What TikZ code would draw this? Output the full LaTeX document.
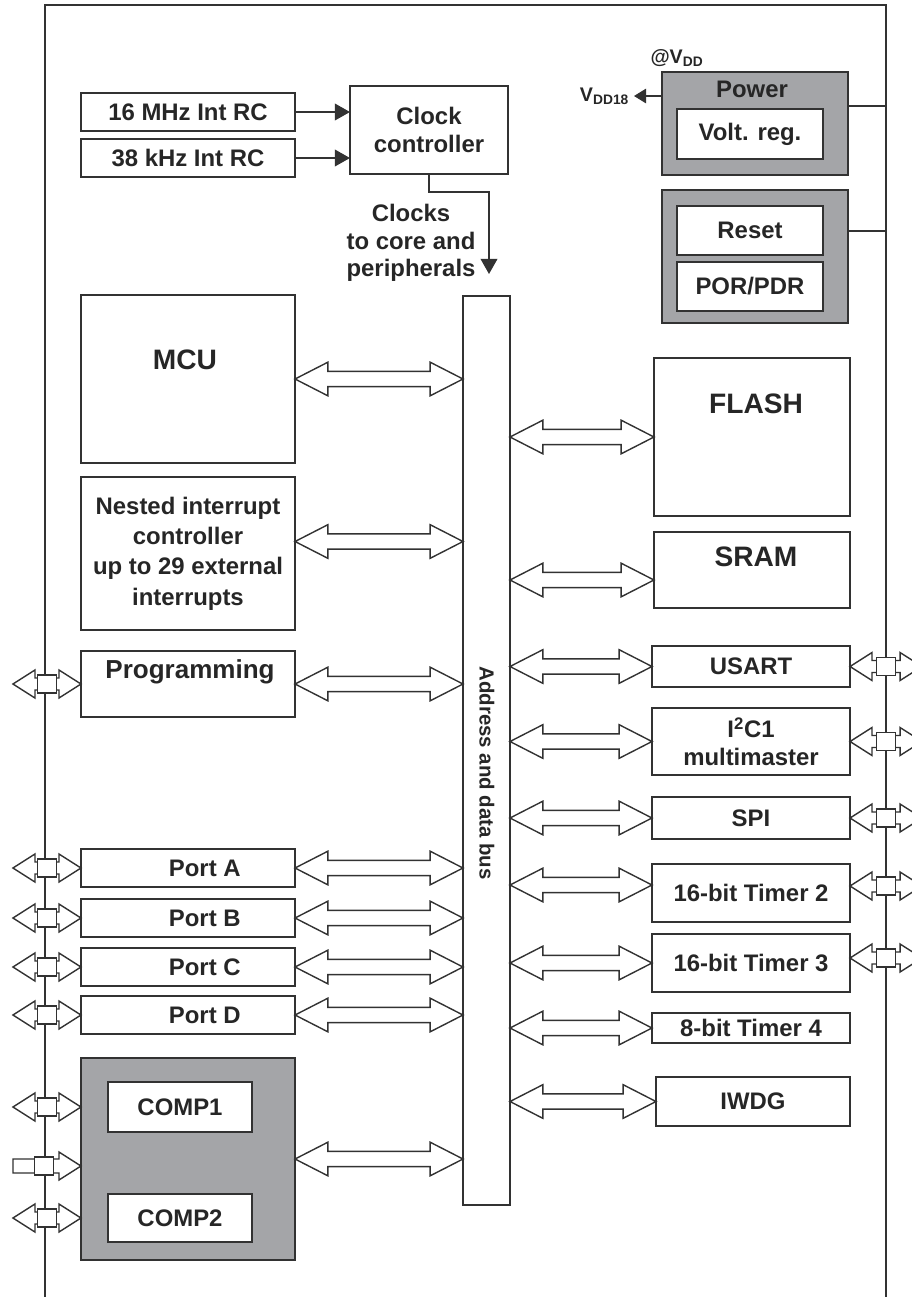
\documentclass[tikz,border=0pt]{standalone}
\usepackage{fontspec}
\setmainfont{Liberation Sans}
\usetikzlibrary{arrows.meta, calc}
\definecolor{linec}{RGB}{50,50,50}
\definecolor{greyc}{RGB}{164,165,168}
\tikzstyle{box} = [rectangle, draw=linec, line width=1.1pt, fill=white, inner sep=0pt, outer sep=0pt, align=center]
\tikzstyle{lbox} = [box, minimum width=5.35cm]
\tikzstyle{rbox} = [box, minimum width=4.95cm]
\tikzstyle{ibox} = [box, minimum width=3.65cm]
\tikzstyle{gbox} = [box, fill=greyc, minimum width=4.65cm]
\tikzstyle{line} = [draw=linec, line width=1.1pt]
\tikzstyle{arrow} = [draw=linec, line width=1.1pt, -{Triangle[length=0.38cm, width=0.42cm]}]
\tikzstyle{pinsq} = [draw=linec, line width=1pt, fill=white, inner sep=0pt, outer sep=0pt, minimum width=0.475cm, minimum height=0.45cm]
\tikzstyle{busarrow} = [draw=linec, fill=white, line width=1pt, to path={
  let \p1=(\tikztostart), \p2=(\tikztotarget) in
  (\x1,\y1) -- (\x1+0.82cm,\y1+0.42cm) -- (\x1+0.82cm,\y1+0.19cm) -- (\x2-0.82cm,\y1+0.19cm)
  -- (\x2-0.82cm,\y1+0.42cm) -- (\x2,\y1) -- (\x2-0.82cm,\y1-0.42cm) -- (\x2-0.82cm,\y1-0.19cm)
  -- (\x1+0.82cm,\y1-0.19cm) -- (\x1+0.82cm,\y1-0.42cm) -- cycle}]
\tikzstyle{pinarrow} = [draw=linec, fill=white, line width=1pt, to path={
  let \p1=(\tikztostart), \p2=(\tikztotarget) in
  (\x1,\y1) -- (\x1+0.55cm,\y1+0.35cm) -- (\x1+0.55cm,\y1+0.15cm) -- (\x2-0.55cm,\y1+0.15cm)
  -- (\x2-0.55cm,\y1+0.35cm) -- (\x2,\y1) -- (\x2-0.55cm,\y1-0.35cm) -- (\x2-0.55cm,\y1-0.15cm)
  -- (\x1+0.55cm,\y1-0.15cm) -- (\x1+0.55cm,\y1-0.35cm) -- cycle
  ({(\x1+\x2)/2},\y1) node[pinsq] {}}]
\tikzstyle{pinin} = [draw=linec, fill=white, line width=1pt, to path={
  let \p1=(\tikztostart), \p2=(\tikztotarget) in
  (\x1,\y1+0.175cm) -- (\x2-0.55cm,\y1+0.175cm) -- (\x2-0.55cm,\y1+0.35cm) -- (\x2,\y1)
  -- (\x2-0.55cm,\y1-0.35cm) -- (\x2-0.55cm,\y1-0.175cm) -- (\x1,\y1-0.175cm) -- cycle
  ({(\x1+\x2)/2-0.07cm},\y1) node[pinsq] {}}]
\tikzset{portbox/.style={lbox, minimum height=0.95cm, label={[xshift=0.42cm]center:#1}}}
\newcommand{\bigtxt}{\bfseries\fontsize{20}{24}\selectfont}

\begin{document}
\begin{tikzpicture}[x=0.025cm, y=-0.025cm, font=\bfseries\fontsize{17}{20.5}\selectfont, text=black!85]
  \useasboundingbox (0,0) rectangle (912,1297);
  % outer frame
  \coordinate (fnw) at (45,5);
  \coordinate (fne) at (886,5);
  \draw [line] (45,1310) -- (fnw) -- (fne) -- (886,1310);

  % clocks
  \node (rc16) [lbox, minimum height=0.95cm] at (188,112) {16 MHz Int RC};
  \node (rc38) [lbox, minimum height=0.95cm] at (188,158) {38 kHz Int RC};
  \node (clk) [box, minimum width=3.95cm, minimum height=2.2cm] at (429,130) {Clock\\controller};
  \node (clktxt) [align=center, font=\bfseries\fontsize{17}{19.5}\selectfont] at (411,243) {Clocks\\to core and\\peripherals};
  \coordinate (clkend) at (489,274);
  \draw [arrow] (rc16.east) -- (rc16.east -| clk.west);
  \draw [arrow] (rc38.east) -- (rc38.east -| clk.west);
  \draw [arrow] (clk.south) -- ++(0,18) -| (clkend);

  % bus
  \node (bus) [box, minimum width=1.175cm, minimum height=22.725cm] at (486.5,750.5) {};
  \node (bustxt) [rotate=-90, font=\bfseries\fontsize{14.5}{17}\selectfont] at (487,773) {Address and data bus};

  % left column
  \node (mcu) [lbox, minimum height=4.2cm] at (188,379) {};
  \node (mcutxt) [font=\bigtxt] at (185,360) {MCU};
  \node (nvic) [lbox, minimum height=3.825cm, font=\bfseries\fontsize{17}{21.5}\selectfont] at (188,553.5) {Nested interrupt\\controller\\up to 29 external\\interrupts};
  \node (prog) [lbox, minimum height=1.65cm] at (188,684) {};
  \node (progtxt) [font=\bfseries\fontsize{18.5}{22}\selectfont] at (190,672) {Programming};
  \node (pa) [portbox=Port A] at (188,868) {};
  \node (pb) [portbox=Port B] at (188,918) {};
  \node (pc) [portbox=Port C] at (188,967) {};
  \node (pd) [portbox=Port D] at (188,1015) {};
  \node (comp) [lbox, fill=greyc, minimum height=5.05cm] at (188,1159) {};
  \node (comp1) [box, minimum width=3.6cm, minimum height=1.25cm] at (180,1107) {COMP1};
  \node (comp2) [box, minimum width=3.6cm, minimum height=1.2cm] at (180,1218) {COMP2};

  % power and reset
  \node (power) [gbox, minimum height=2.575cm] at (755,123.5) {};
  \node (powtxt) at (752,89) {Power};
  \node (vreg) [ibox, minimum height=1.25cm] at (750,134) {Volt. reg.};
  \node (rstgrp) [gbox, minimum height=3.325cm] at (755,256.5) {};
  \node (reset) [ibox, minimum height=1.225cm] at (750,230.5) {Reset};
  \node (por) [ibox, minimum height=1.225cm] at (750,286.5) {POR/PDR};
  \node (vdd) [font=\bfseries\fontsize{14}{16}\selectfont] at (677,58) {@V\textsubscript{DD}};
  \node (vdd18) [anchor=east, font=\bfseries\fontsize{14}{16}\selectfont] at (634,96) {V\textsubscript{DD18}};
  \draw [draw=linec, line width=1.1pt, -{Triangle[length=0.3cm, width=0.36cm]}] (power.west |- vdd18) -- (vdd18.east);
  \draw [line] ([yshift=0.44cm]power.east) -- ([yshift=0.44cm]power.east -| fne);
  \draw [line] ([yshift=0.64cm]rstgrp.east) -- ([yshift=0.64cm]rstgrp.east -| fne);

  % right column
  \node (flash) [box, minimum width=4.9cm, minimum height=3.95cm] at (752,437) {};
  \node (flashtxt) [font=\bigtxt] at (756,404) {FLASH};
  \node (sram) [box, minimum width=4.9cm, minimum height=1.9cm] at (752,570) {};
  \node (sramtxt) [font=\bigtxt] at (756,557) {SRAM};
  \node (usart) [rbox, minimum height=1.025cm] at (751,666.5) {USART};
  \node (i2c) [rbox, minimum height=1.675cm, font=\bfseries\fontsize{17}{19.5}\selectfont] at (751,741.5) {I\textsuperscript{2}C1\\multimaster};
  \node (spi) [rbox, minimum height=1.05cm] at (751,818) {SPI};
  \node (tim2) [rbox, minimum height=1.45cm] at (751,893) {16-bit Timer 2};
  \node (tim3) [rbox, minimum height=1.45cm] at (751,963) {16-bit Timer 3};
  \node (tim4) [rbox, minimum height=0.75cm] at (751,1028) {8-bit Timer 4};
  \node (iwdg) [box, minimum width=4.85cm, minimum height=1.225cm] at (753,1101.5) {IWDG};

  % bus links, left
  \draw [busarrow] (mcu.east) to (mcu.east -| bus.west);
  \draw [busarrow] ([yshift=0.3cm]nvic.east) to ([yshift=0.3cm]nvic.east -| bus.west);
  \draw [busarrow] (prog.east) to (prog.east -| bus.west);
  \draw [busarrow] (pa.east) to (pa.east -| bus.west);
  \draw [busarrow] (pb.east) to (pb.east -| bus.west);
  \draw [busarrow] (pc.east) to (pc.east -| bus.west);
  \draw [busarrow] (pd.east) to (pd.east -| bus.west);
  \draw [busarrow] (comp.east) to (comp.east -| bus.west);

  % bus links, right
  \draw [busarrow] (flash.west -| bus.east) to (flash.west);
  \draw [busarrow] ([yshift=-0.25cm]sram.west -| bus.east) to ([yshift=-0.25cm]sram.west);
  \draw [busarrow] (usart.west -| bus.east) to (usart.west);
  \draw [busarrow] (i2c.west -| bus.east) to (i2c.west);
  \draw [busarrow] (spi.west -| bus.east) to (spi.west);
  \draw [busarrow] ([yshift=0.2cm]tim2.west -| bus.east) to ([yshift=0.2cm]tim2.west);
  \draw [busarrow] (tim3.west -| bus.east) to (tim3.west);
  \draw [busarrow] (tim4.west -| bus.east) to (tim4.west);
  \draw [busarrow] (iwdg.west -| bus.east) to (iwdg.west);

  % pins, left
  \coordinate (c1pin) at (comp.west |- comp1);
  \coordinate (cinpin) at ([yshift=-0.175cm]comp.west);
  \coordinate (c2pin) at (comp.west |- comp2);
  \draw [pinarrow] ([xshift=-1.7cm]prog.west) to (prog.west);
  \draw [pinarrow] ([xshift=-1.7cm]pa.west) to (pa.west);
  \draw [pinarrow] ([xshift=-1.7cm]pb.west) to (pb.west);
  \draw [pinarrow] ([xshift=-1.7cm]pc.west) to (pc.west);
  \draw [pinarrow] ([xshift=-1.7cm]pd.west) to (pd.west);
  \draw [pinarrow] ([xshift=-1.7cm]c1pin) to (c1pin);
  \draw [pinin] ([xshift=-1.7cm]cinpin) to (cinpin);
  \draw [pinarrow] ([xshift=-1.7cm]c2pin) to (c2pin);

  % pins, right
  \draw [pinarrow] (usart.east) to ([xshift=1.8cm]usart.east);
  \draw [pinarrow] (i2c.east) to ([xshift=1.8cm]i2c.east);
  \draw [pinarrow] (spi.east) to ([xshift=1.8cm]spi.east);
  \draw [pinarrow] ([yshift=0.175cm]tim2.east) to ([xshift=1.8cm, yshift=0.175cm]tim2.east);
  \draw [pinarrow] ([yshift=0.125cm]tim3.east) to ([xshift=1.8cm, yshift=0.125cm]tim3.east);
\end{tikzpicture}
\end{document}
